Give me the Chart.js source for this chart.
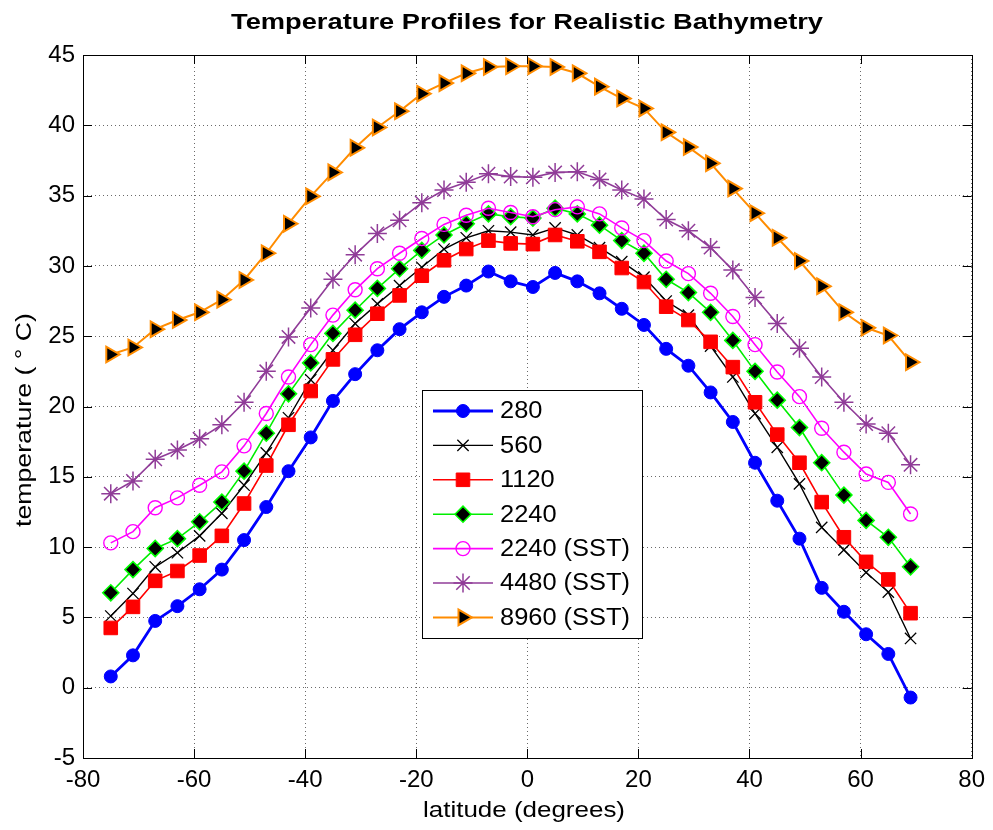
<!DOCTYPE html>
<html>
<head>
<meta charset="utf-8">
<title>Temperature Profiles for Realistic Bathymetry</title>
<script src="https://cdn.jsdelivr.net/npm/chart.js@4.4.0/dist/chart.umd.min.js"></script>
<style>
  html, body { margin: 0; padding: 0; background: #fff; }
  #wrap { width: 993px; height: 830px; }
</style>
</head>
<body>
<div id="wrap"><canvas id="chart" width="993" height="830"></canvas></div>
<script>
// latitude of each sample (degrees)
const latitudes = [-75, -71, -67, -63, -59, -55, -51, -47, -43,
  -39, -35, -31, -27, -23, -19, -15, -11, -7,
  -3, 1, 5, 9, 13, 17, 21, 25, 29,
  33, 37, 41, 45, 49, 53, 57, 61, 65, 69];

// temperature profiles (°C), one per run
const t280 = [0.8, 2.3, 4.75, 5.8, 7.0, 8.4, 10.5, 12.85, 15.4,
  17.8, 20.4, 22.3, 24.0, 25.5, 26.7, 27.8, 28.6, 29.6,
  28.9, 28.5, 29.5, 28.9, 28.05, 26.95, 25.8, 24.1, 22.9,
  21.0, 18.9, 16.0, 13.3, 10.6, 7.1, 5.4, 3.8, 2.4, -0.7];
const t560 = [5.1, 6.7, 8.6, 9.6, 10.8, 12.4, 14.4, 16.7, 19.2,
  21.9, 24.0, 25.9, 27.3, 28.6, 29.9, 31.2, 32.0, 32.5,
  32.4, 32.2, 32.7, 32.2, 31.3, 30.3, 29.2, 27.5, 26.5,
  24.3, 22.1, 19.5, 17.1, 14.5, 11.4, 9.8, 8.2, 6.8, 3.5];
const t1120 = [4.25, 5.75, 7.6, 8.3, 9.4, 10.8, 13.1, 15.8, 18.7,
  21.1, 23.35, 25.1, 26.6, 27.9, 29.3, 30.4, 31.2, 31.8,
  31.6, 31.55, 32.2, 31.75, 31.0, 29.85, 28.85, 27.1, 26.15,
  24.6, 22.8, 20.3, 18.0, 16.0, 13.2, 10.7, 8.95, 7.7, 5.3];
const t2240 = [6.75, 8.4, 9.9, 10.6, 11.8, 13.2, 15.4, 18.1, 20.9,
  23.1, 25.2, 26.85, 28.4, 29.8, 31.1, 32.2, 33.0, 33.7,
  33.5, 33.4, 34.1, 33.7, 32.9, 31.8, 30.9, 29.05, 28.1,
  26.7, 24.7, 22.5, 20.45, 18.5, 16.0, 13.7, 11.9, 10.7, 8.6];
const t2240sst = [10.3, 11.1, 12.8, 13.5, 14.4, 15.35, 17.2, 19.5, 22.1,
  24.4, 26.5, 28.3, 29.8, 30.9, 31.95, 32.95, 33.6, 34.1,
  33.8, 33.5, 34.0, 34.2, 33.7, 32.7, 31.8, 30.35, 29.45,
  28.05, 26.4, 24.4, 22.45, 20.7, 18.45, 16.75, 15.2, 14.6, 12.35];
const t4480sst = [13.8, 14.7, 16.25, 16.9, 17.7, 18.7, 20.3, 22.5, 24.95,
  27.0, 29.05, 30.8, 32.3, 33.25, 34.5, 35.4, 35.95, 36.55,
  36.35, 36.3, 36.65, 36.7, 36.15, 35.4, 34.75, 33.3, 32.5,
  31.3, 29.7, 27.75, 25.9, 24.15, 22.1, 20.3, 18.75, 18.1, 15.85];
const t8960sst = [23.7, 24.2, 25.5, 26.15, 26.7, 27.6, 29.0, 30.9, 33.0,
  34.95, 36.65, 38.4, 39.85, 41.0, 42.25, 43.0, 43.7, 44.15,
  44.2, 44.2, 44.15, 43.7, 42.75, 41.9, 41.2, 39.5, 38.45,
  37.3, 35.5, 33.75, 32.0, 30.35, 28.55, 26.7, 25.6, 25.05, 23.15];

const seriesLabels = ['280', '560', '1120', '2240', '2240 (SST)', '4480 (SST)', '8960 (SST)'];
const xTicks = [-80, -60, -40, -20, 0, 20, 40, 60, 80];
const yTicks = [-5, 0, 5, 10, 15, 20, 25, 30, 35, 40, 45];

const FONT = '"Liberation Sans", Arial, Helvetica, sans-serif';

function pts(values) {
  return values.map((v, i) => ({ x: latitudes[i], y: v }));
}

const styles = [
  { line: '#0000ff', width: 2.8, fill: '#0000ff', edge: '#0000ff', point: 'circle', r: 6.5, bw: 1 },
  { line: '#000000', width: 1.4, fill: '#000000', edge: '#000000', point: 'crossRot', r: 8, bw: 1.3 },
  { line: '#ff0000', width: 1.6, fill: '#ff0000', edge: '#ff0000', point: 'rect', r: 9.6, bw: 1 },
  { line: '#00ee00', width: 1.6, fill: '#000000', edge: '#00ff00', point: 'rectRot', r: 8, bw: 1.6 },
  { line: '#ff00ff', width: 1.6, fill: 'rgba(0,0,0,0)', edge: '#ff00ff', point: 'circle', r: 7, bw: 1.4 },
  { line: '#903c98', width: 1.6, fill: '#903c98', edge: '#903c98', point: 'star', r: 9.5, bw: 1.5 },
  { line: '#ff8c00', width: 2, fill: '#000000', edge: '#ff8c00', point: 'triangle', r: 9, bw: 2, rot: 90 }
];

const allSeries = [t280, t560, t1120, t2240, t2240sst, t4480sst, t8960sst];

const datasets = allSeries.map((vals, i) => {
  const s = styles[i];
  return {
    label: seriesLabels[i],
    data: pts(vals),
    borderColor: s.line,
    borderWidth: s.width,
    backgroundColor: s.fill,
    pointStyle: s.point,
    pointRadius: s.r,
    pointHoverRadius: s.r,
    pointRotation: s.rot || 0,
    pointBackgroundColor: s.fill,
    pointBorderColor: s.edge,
    pointBorderWidth: s.bw,
    tension: 0,
    fill: false,
    order: allSeries.length - i
  };
});

// text drawn a little wider than the font's natural width
function wideText(ctx, text, x, y, font, targetWidth, angle) {
  ctx.save();
  ctx.font = font;
  const sx = targetWidth / ctx.measureText(text).width;
  ctx.translate(x, y);
  if (angle) ctx.rotate(angle);
  ctx.scale(sx, 1);
  ctx.textAlign = 'center';
  ctx.textBaseline = 'middle';
  ctx.fillStyle = '#000';
  ctx.fillText(text, 0, 0);
  ctx.restore();
}

// frame, inward ticks, titles and the legend box
const decorations = {
  id: 'decorations',
  afterDraw(chart) {
    const ctx = chart.ctx;
    const a = chart.chartArea;
    const xs = chart.scales.x, ys = chart.scales.y;
    ctx.save();

    ctx.strokeStyle = '#000';
    ctx.lineWidth = 1;
    ctx.strokeRect(Math.round(a.left) + 0.5, Math.round(a.top) + 0.5,
      Math.round(a.right - a.left), Math.round(a.bottom - a.top));

    const tl = 9;
    ctx.beginPath();
    xTicks.forEach(v => {
      const px = Math.round(xs.getPixelForValue(v)) + 0.5;
      ctx.moveTo(px, a.bottom); ctx.lineTo(px, a.bottom - tl);
      ctx.moveTo(px, a.top); ctx.lineTo(px, a.top + tl);
    });
    yTicks.forEach(v => {
      const py = Math.round(ys.getPixelForValue(v)) + 0.5;
      ctx.moveTo(a.left, py); ctx.lineTo(a.left + tl, py);
      ctx.moveTo(a.right, py); ctx.lineTo(a.right - tl, py);
    });
    ctx.stroke();

    wideText(ctx, 'Temperature Profiles for Realistic Bathymetry', 527, 23,
      'bold 22px ' + FONT, 592);
    wideText(ctx, 'latitude (degrees)', 524, 811, '22px ' + FONT, 202);
    wideText(ctx, 'temperature ( ° C)', 25, 420, '22px ' + FONT, 214, -Math.PI / 2);

    // legend
    const box = { x: 422, y: 390, w: 220, h: 248 };
    ctx.fillStyle = '#fff';
    ctx.fillRect(box.x, box.y, box.w, box.h);
    ctx.strokeStyle = '#000';
    ctx.lineWidth = 1;
    ctx.strokeRect(box.x + 0.5, box.y + 0.5, box.w, box.h);

    ctx.font = '23px ' + FONT;
    const lsx = 130 / ctx.measureText('2240 (SST)').width;
    chart.data.datasets.forEach((ds, i) => {
      const y = 411 + i * 34.4;
      ctx.strokeStyle = ds.borderColor;
      ctx.lineWidth = ds.borderWidth;
      ctx.beginPath();
      ctx.moveTo(433, y); ctx.lineTo(493, y);
      ctx.stroke();
      ctx.fillStyle = ds.pointBackgroundColor;
      ctx.strokeStyle = ds.pointBorderColor;
      ctx.lineWidth = ds.pointBorderWidth;
      if (Chart.helpers && Chart.helpers.drawPoint) {
        Chart.helpers.drawPoint(ctx, {
          pointStyle: ds.pointStyle,
          radius: ds.pointRadius,
          rotation: ds.pointRotation,
          borderWidth: ds.pointBorderWidth
        }, 463, y);
      }
      ctx.save();
      ctx.translate(500, y + 1);
      ctx.scale(lsx, 1);
      ctx.font = '23px ' + FONT;
      ctx.textAlign = 'left';
      ctx.textBaseline = 'middle';
      ctx.fillStyle = '#000';
      ctx.fillText(ds.label, 0, 0);
      ctx.restore();
    });
    ctx.restore();
  }
};

new Chart(document.getElementById('chart').getContext('2d'), {
  type: 'line',
  data: { datasets },
  options: {
    responsive: false,
    animation: false,
    layout: { padding: { top: 55, right: 16, left: 0, bottom: 0 } },
    plugins: {
      legend: { display: false },
      tooltip: { enabled: false },
      title: { display: false }
    },
    scales: {
      x: {
        type: 'linear',
        min: -80,
        max: 80,
        afterFit: s => { s.height = 72; },
        afterBuildTicks: s => { s.ticks = xTicks.map(v => ({ value: v })); },
        ticks: { color: '#000', font: { family: FONT, size: 24 }, padding: 8 },
        grid: { color: '#6a6a6a', lineWidth: 1, drawTicks: false },
        border: { display: false, dash: [1, 3] }
      },
      y: {
        type: 'linear',
        min: -5,
        max: 45,
        afterFit: s => { s.width = 83; },
        afterBuildTicks: s => { s.ticks = yTicks.map(v => ({ value: v })); },
        ticks: { color: '#000', font: { family: FONT, size: 24 }, padding: 8 },
        grid: { color: '#6a6a6a', lineWidth: 1, drawTicks: false },
        border: { display: false, dash: [1, 3] }
      }
    }
  },
  plugins: [decorations]
});
</script>
</body>
</html>
